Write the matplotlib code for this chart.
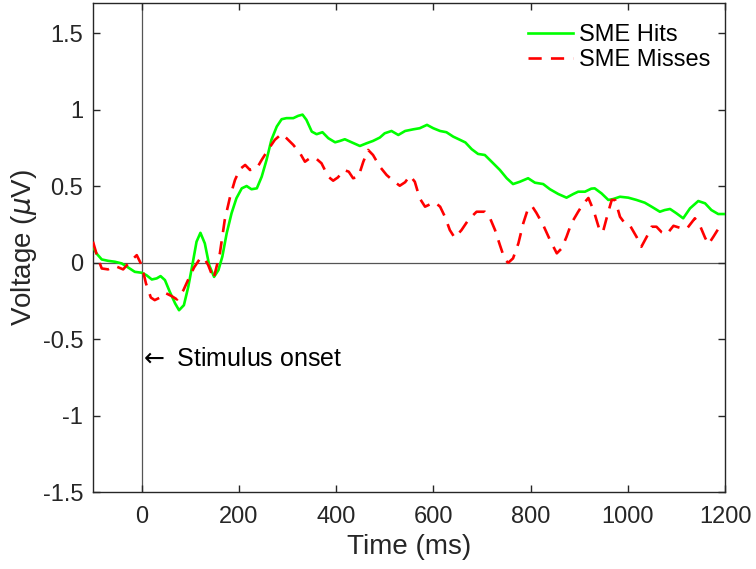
import matplotlib
matplotlib.use('Agg')
import matplotlib.pyplot as plt

plt.rcParams['font.family'] = ['Liberation Sans', 'DejaVu Sans']
plt.rcParams['mathtext.fontset'] = 'dejavusans'

# time (ms) and voltage (uV)
hits_t = [-100, -93, -82, -69, -55, -41, -28, -14, 0, 10, 21, 31, 39, 48, 58, 69, 77,
          87, 96, 105, 113, 121, 130, 139, 149, 158, 166, 175, 185, 195, 206, 216, 226,
          237, 247, 257, 267, 278, 288, 298, 312, 322, 331, 339, 350, 360, 372, 384,
          398, 408, 418, 432, 449, 463, 476, 490, 500, 514, 528, 542, 559, 572, 587,
          600, 614, 627, 641, 655, 666, 679, 692, 706, 720, 737, 751, 764, 778, 795,
          809, 826, 840, 857, 874, 888, 898, 912, 925, 932, 946, 960, 970, 984, 1001,
          1018, 1035, 1049, 1066, 1076, 1087, 1100, 1114, 1128, 1145, 1159, 1172,
          1186, 1200]
hits_v = [0.105, 0.062, 0.022, 0.013, 0.007, -0.004, -0.030, -0.059, -0.065, -0.081,
          -0.109, -0.102, -0.087, -0.113, -0.19, -0.266, -0.31, -0.277, -0.157, -0.004,
          0.138, 0.196, 0.127, -0.015, -0.092, -0.048, 0.04, 0.193, 0.324, 0.422, 0.487,
          0.502, 0.481, 0.487, 0.563, 0.673, 0.804, 0.891, 0.939, 0.946, 0.946, 0.961,
          0.969, 0.935, 0.858, 0.841, 0.854, 0.815, 0.788, 0.797, 0.808, 0.788, 0.764,
          0.782, 0.797, 0.819, 0.847, 0.862, 0.836, 0.862, 0.873, 0.880, 0.902, 0.880,
          0.862, 0.854, 0.825, 0.804, 0.787, 0.743, 0.712, 0.705, 0.661, 0.607, 0.553,
          0.515, 0.530, 0.553, 0.524, 0.515, 0.481, 0.450, 0.426, 0.450, 0.465, 0.465,
          0.485, 0.487, 0.454, 0.411, 0.417, 0.432, 0.426, 0.411, 0.393, 0.367, 0.334,
          0.345, 0.352, 0.324, 0.291, 0.356, 0.404, 0.389, 0.345, 0.319, 0.319]

misses_t = [-100, -91, -82, -69, -55, -38, -26, -10, 0, 9, 19, 27, 38, 48, 62, 73, 86,
            96, 108, 119, 128, 137, 148, 161, 171, 182, 192, 202, 213, 223, 237, 247,
            260, 274, 288, 298, 312, 326, 336, 346, 356, 370, 384, 394, 404, 416, 426,
            435, 446, 456, 466, 476, 490, 504, 518, 531, 542, 552, 562, 572, 583, 593,
            603, 614, 624, 634, 644, 658, 672, 689, 706, 716, 727, 737, 747, 754, 764,
            775, 785, 795, 803, 812, 826, 840, 854, 864, 874, 884, 898, 908, 919, 930,
            943, 949, 960, 967, 974, 984, 994, 1004, 1018, 1028, 1039, 1049, 1059,
            1070, 1080, 1094, 1107, 1121, 1138, 1148, 1159, 1166, 1176, 1186, 1196,
            1200]
misses_v = [0.138, 0.039, -0.037, -0.043, -0.02, -0.043, 0.0, 0.05, -0.015, -0.135,
            -0.227, -0.244, -0.227, -0.196, -0.218, -0.24, -0.179, -0.109, -0.030, 0.022,
            0.035, -0.015, -0.105, 0.062, 0.28, 0.432, 0.541, 0.612, 0.64, 0.607, 0.618,
            0.673, 0.738, 0.804, 0.843, 0.815, 0.771, 0.716, 0.661, 0.684, 0.690, 0.651,
            0.563, 0.537, 0.559, 0.607, 0.596, 0.553, 0.563, 0.661, 0.738, 0.705, 0.629,
            0.574, 0.535, 0.504, 0.527, 0.570, 0.530, 0.422, 0.367, 0.382, 0.396, 0.367,
            0.301, 0.214, 0.164, 0.214, 0.280, 0.334, 0.334, 0.297, 0.214, 0.116, 0.022,
            0.0, 0.029, 0.127, 0.258, 0.356, 0.371, 0.327, 0.247, 0.149, 0.062, 0.094,
            0.170, 0.258, 0.334, 0.384, 0.424, 0.34, 0.203, 0.203, 0.334, 0.411, 0.411,
            0.301, 0.258, 0.247, 0.170, 0.105, 0.170, 0.236, 0.236, 0.199, 0.186, 0.242,
            0.229, 0.221, 0.291, 0.247, 0.164, 0.122, 0.170, 0.221, 0.199, 0.19]

fig = plt.figure(figsize=(7.56, 5.69), dpi=100)
ax = fig.add_axes([0.123, 0.135, 0.836, 0.860])

ax.axhline(0, color='#555555', lw=0.9, zorder=1)
ax.axvline(0, color='#555555', lw=0.9, zorder=1)

ax.plot(hits_t, hits_v, color='#00ff00', lw=1.9, label='SME Hits', zorder=3)
ax.plot(misses_t, misses_v, color='#ff0000', lw=1.9, dashes=(5, 3.5),
        label='SME Misses', zorder=3)

ax.text(-6, -0.63, '$\\leftarrow$ Stimulus onset', fontsize=18, va='center',
        ha='left', color='black')

ax.set_xlim(-100, 1200)
ax.set_ylim(-1.5, 1.7)
ax.set_xticks(range(0, 1201, 200))
ax.set_yticks([-1.5, -1, -0.5, 0, 0.5, 1, 1.5])
ax.set_yticklabels(['-1.5', '-1', '-0.5', '0', '0.5', '1', '1.5'])
ax.tick_params(direction='in', length=5, width=1, labelsize=17, colors='#262626',
               top=True, right=True, pad=7)
ax.tick_params(axis='x', pad=10)
for s in ax.spines.values():
    s.set_color('#262626')
    s.set_linewidth(1)

ax.set_xlabel('Time (ms)', fontsize=20, color='#262626', labelpad=4)
ax.set_ylabel('Voltage ($\\mu$V)', fontsize=20, color='#262626', labelpad=3)

leg = ax.legend(loc='upper left', bbox_to_anchor=(0.688, 0.957), frameon=False,
                fontsize=17, handlelength=1.9, handletextpad=0.25, labelspacing=0.15,
                borderpad=0, borderaxespad=0)

fig.savefig('out.png', dpi=100)
